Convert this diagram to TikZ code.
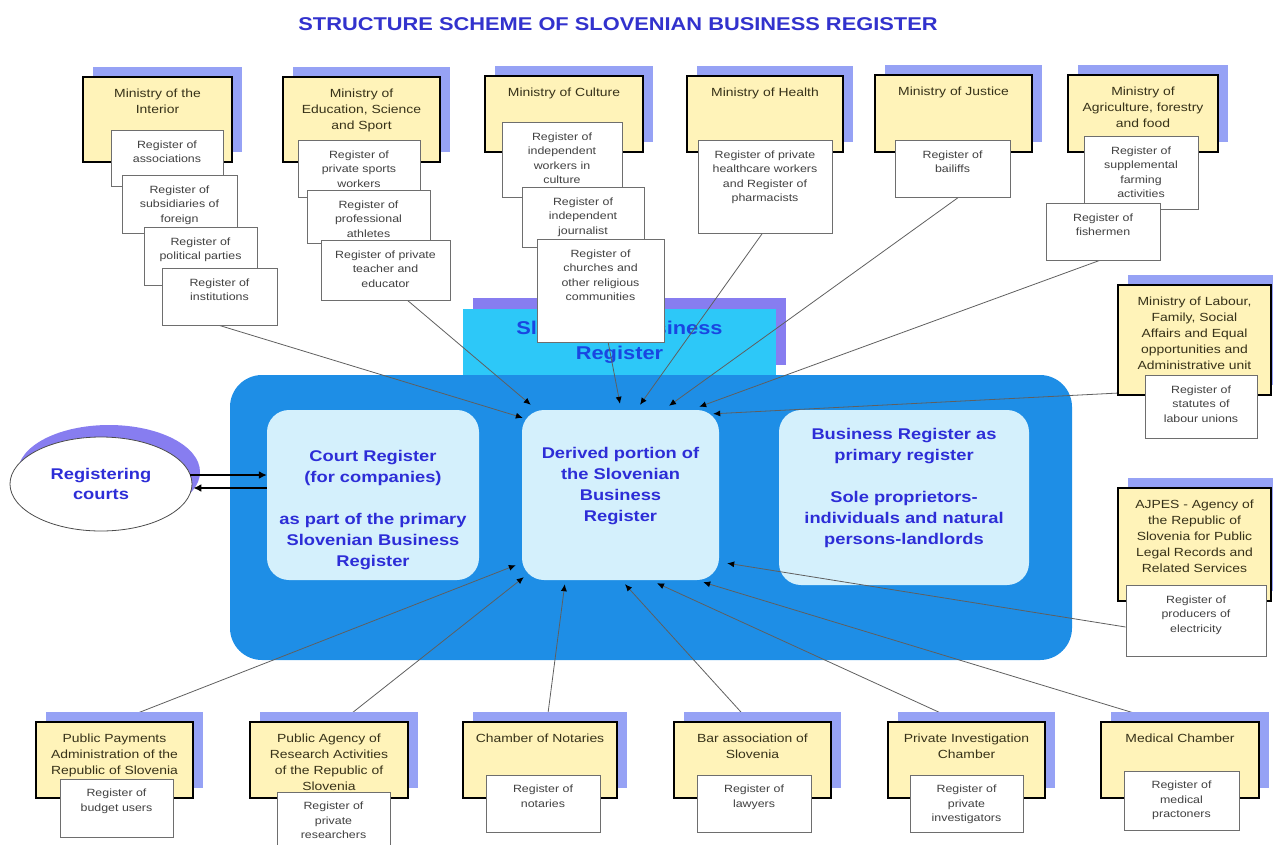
\documentclass[tikz,border=0pt]{standalone}
\usepackage{fontspec}
\setmainfont{Liberation Sans}[FakeStretch=1.18]
\usetikzlibrary{shapes.geometric,shadows,arrows.meta,calc}
\definecolor{minyellow}{RGB}{255,243,185}
\definecolor{shadblue}{RGB}{150,162,245}
\definecolor{violetshad}{RGB}{135,125,240}
\definecolor{regborder}{RGB}{110,110,110}
\definecolor{regtext}{RGB}{65,65,65}
\definecolor{mintext}{RGB}{55,50,25}
\definecolor{bigblue}{RGB}{30,142,230}
\definecolor{lightcyan}{RGB}{212,240,252}
\definecolor{cyanbox}{RGB}{45,200,248}
\definecolor{bluetext}{RGB}{45,45,215}
\definecolor{sbrtext}{RGB}{25,70,225}
\definecolor{titleblue}{RGB}{50,50,205}
\definecolor{linegray}{RGB}{95,95,95}
\newcommand{\boxtext}[4]{\parbox[c][#2pt][t]{#1pt}{\centering\vspace*{#3pt}#4\par}}
\pgfdeclarelayer{bg}
\pgfdeclarelayer{ln}
\pgfsetlayers{bg,ln,main}
\begin{document}
\begin{tikzpicture}[x=1pt,y=-1pt,
  minis/.style={draw=black, line width=2.2pt, fill=minyellow, inner sep=0pt, text=mintext,
    font=\fontsize{11.8}{16}\selectfont,
    general shadow={fill=shadblue, opacity=1, shadow xshift=10pt, shadow yshift=10pt}},
  reg/.style={draw=regborder, line width=0.9pt, fill=white, inner sep=0pt, text=regtext,
    font=\fontsize{10.5}{14.5}\selectfont},
  innerbox/.style={fill=lightcyan, rounded corners=22pt, inner sep=0pt, text=bluetext,
    font=\bfseries\fontsize{15.5}{21}\selectfont},
  conn/.style={draw=linegray, line width=0.8pt, -{Latex[length=7pt,width=6pt,color=black]}},
  courtarrow/.style={draw=black, line width=1.8pt, -{Latex[length=8pt,width=8pt]}}
]
\useasboundingbox (0,0) rectangle (1273,844);
\node[font=\bfseries\fontsize{18.5}{22}\selectfont, text=titleblue] (title) at (618,24)
  {STRUCTURE SCHEME OF SLOVENIAN BUSINESS REGISTER};

\begin{pgfonlayer}{bg}
\node[fill=cyanbox, minimum width=313pt, minimum height=67pt, inner sep=0pt, text=sbrtext,
  font=\bfseries\fontsize{18.5}{25}\selectfont, align=center,
  general shadow={fill=violetshad, opacity=1, shadow xshift=10pt, shadow yshift=11pt}]
  (sbr) at (619.5,342.5) {Slovenian Business\\Register};
\node[fill=bigblue, rounded corners=32pt, minimum width=842pt, minimum height=285pt, inner sep=0pt]
  (big) at (651,517.5) {};
\node[innerbox] (court) at (373,495) {\boxtext{212}{170}{40.5}{Court Register\\(for companies)\\[21pt]as part of the primary\\Slovenian Business\\Register}};
\node[innerbox] (der) at (620.5,495) {\boxtext{197}{170}{37.5}{Derived portion of\\the Slovenian\\Business\\Register}};
\node[innerbox] (bus) at (904,497.5) {\boxtext{250}{175}{18.5}{Business Register as\\primary register\\[21pt]Sole proprietors-\\individuals and natural\\persons-landlords}};
\end{pgfonlayer}

% Ministry of the Interior
\node[minis] (mInt) at (157.5,119.5) {\boxtext{149}{85}{11.5}{Ministry of the\\Interior}};
\node[reg] (rAsso) at (167,158) {\boxtext{112}{56}{10.5}{Register of\\associations}};
\node[reg] (rSubs) at (179.5,204) {\boxtext{115}{58}{10.5}{Register of\\subsidiaries of\\foreign}};
\node[reg] (rPol) at (200.5,256) {\boxtext{113}{58}{10.5}{Register of\\political parties}};
\node[reg] (rInst) at (219.5,296.5) {\boxtext{115}{57}{10.5}{Register of\\institutions}};
% Education
\node[minis] (mEdu) at (361.5,119.5) {\boxtext{157}{85}{11.5}{Ministry of\\Education, Science\\and Sport}};
\node[reg] (rSpo) at (359,168.5) {\boxtext{122}{57}{10.5}{Register of\\private sports\\workers}};
\node[reg] (rAth) at (368.5,216.5) {\boxtext{123}{53}{10.5}{Register of\\professional\\athletes}};
\node[reg] (rTea) at (385.5,270) {\boxtext{129}{60}{10.5}{Register of private\\teacher and\\educator}};
% Culture
\node[minis] (mCul) at (564,114) {\boxtext{158}{76}{11.5}{Ministry of Culture}};
\node[reg] (rWor) at (562,159.5) {\boxtext{120}{75}{10.5}{Register of\\independent\\workers in\\culture}};
\node[reg] (rJou) at (583,217) {\boxtext{122}{60}{10.5}{Register of\\independent\\journalist}};
\node[reg] (rChu) at (600.5,290.5) {\boxtext{127}{103}{10.5}{Register of\\churches and\\other religious\\communities}};
% Health
\node[minis] (mHea) at (765,114) {\boxtext{156}{76}{11.5}{Ministry of Health}};
\node[reg] (rHea) at (765,186.5) {\boxtext{134}{93}{10.5}{Register of private\\healthcare workers\\and Register of\\pharmacists}};
% Justice
\node[minis] (mJus) at (953.5,113.5) {\boxtext{157}{77}{11.5}{Ministry of Justice}};
\node[reg] (rBai) at (952.5,168.5) {\boxtext{115}{57}{10.5}{Register of\\bailiffs}};
% Agriculture
\node[minis] (mAgr) at (1143,113.5) {\boxtext{150}{77}{11.5}{Ministry of\\Agriculture, forestry\\and food}};
\node[reg] (rSup) at (1141,172.5) {\boxtext{114}{73}{10.5}{Register of\\supplemental\\farming\\activities}};
\node[reg] (rFis) at (1103,231.5) {\boxtext{114}{57}{10.5}{Register of\\fishermen}};
% Labour
\node[minis] (mLab) at (1194.5,340) {\boxtext{153}{110}{11.5}{Ministry of Labour,\\Family, Social\\Affairs and Equal\\opportunities and\\Administrative unit}};
\node[reg] (rLab) at (1201,406.5) {\boxtext{112}{63}{10.5}{Register of\\statutes of\\labour unions}};
% AJPES
\node[minis] (mAJP) at (1194.5,544.5) {\boxtext{153}{113}{11.5}{AJPES - Agency of\\the Republic of\\Slovenia for Public\\Legal Records and\\Related Services}};
\node[reg] (rEle) at (1196,620.5) {\boxtext{140}{71}{10.5}{Register of\\producers of\\electricity}};
% Bottom row
\node[minis] (mPP) at (114.5,760) {\boxtext{157}{76}{11.5}{Public Payments\\Administration of the\\Republic of Slovenia}};
\node[reg] (rBud) at (116.5,808) {\boxtext{113}{58}{10}{Register of\\budget users}};
\node[minis] (mPA) at (329,760) {\boxtext{158}{76}{11.5}{Public Agency of\\Research Activities\\of the Republic of\\Slovenia}};
\node[reg] (rRes) at (333.5,821) {\boxtext{113}{58}{10}{Register of\\private\\researchers}};
\node[minis] (mCN) at (540,760) {\boxtext{154}{76}{11.5}{Chamber of Notaries}};
\node[reg] (rNot) at (543,803.5) {\boxtext{114}{57}{10}{Register of\\notaries}};
\node[minis] (mBar) at (752.5,760) {\boxtext{157}{76}{11.5}{Bar association of\\Slovenia}};
\node[reg] (rLaw) at (754,803.5) {\boxtext{114}{57}{10}{Register of\\lawyers}};
\node[minis] (mPI) at (966.5,760) {\boxtext{157}{76}{11.5}{Private Investigation\\Chamber}};
\node[reg] (rInv) at (966.5,803.5) {\boxtext{113}{57}{10}{Register of\\private\\investigators}};
\node[minis] (mMed) at (1180,760) {\boxtext{158}{76}{11.5}{Medical Chamber}};
\node[reg] (rMed) at (1181.5,800.5) {\boxtext{115}{59}{10}{Register of\\medical\\practoners}};

% Registering courts
\node[ellipse, draw=black!70, line width=0.8pt, fill=white, minimum width=182pt, minimum height=94pt,
  inner sep=0pt, text=bluetext, font=\bfseries\fontsize{15.5}{20}\selectfont, align=center,
  general shadow={fill=violetshad, opacity=1, shadow xshift=8pt, shadow yshift=12pt}]
  (ell) at (101,484) {Registering\\courts};
\draw[courtarrow] ($(ell.east)+(-2,-9)$) -- ($(court.west)+(0,-20)$);
\draw[courtarrow] ($(court.west)+(0,-7)$) -- ($(ell.east)+(1,4)$);

\begin{pgfonlayer}{ln}
\draw[conn] (rInst.south) -- ($(der.north west)+(1,8)$);
\draw[conn] ($(rTea.south west)!0.67!(rTea.south east)$) -- ($(der.north west)+(9,-5)$);
\draw[conn] ($(rChu.south west)!0.56!(rChu.south east)$) -- ($(der.north)+(-0.5,-6)$);
\draw[conn] ($(rHea.south west)!0.48!(rHea.south east)$) -- ($(der.north)+(19.5,-5)$);
\draw[conn] ($(rBai.south west)!0.55!(rBai.south east)$) -- ($(der.north)+(48.5,-4)$);
\draw[conn] ($(rFis.south west)!0.47!(rFis.south east)$) -- ($(der.north east)+(-20,-3)$);
\draw[conn] ($(mLab.south west)+(0,-3)$) -- ($(der.north east)+(-6,4)$);
\draw[conn] ($(mPP.north)+(3,0)$) -- ($(der.south west)+(-6,-15)$);
\draw[conn] ($(mPA.north)+(13,0)$) -- ($(der.south west)+(2,-3)$);
\draw[conn] ($(mCN.north)+(7,0)$) -- ($(der.south west)+(43,4)$);
\draw[conn] ($(mBar.north)+(-3.5,0)$) -- ($(der.south)+(4.5,4)$);
\draw[conn] ($(mPI.north)+(-8.5,0)$) -- ($(der.south)+(36.5,3)$);
\draw[conn] ($(mMed.north)+(-20,0)$) -- ($(der.south east)+(-16,2)$);
\draw[conn] ($(rEle.west)+(0,6.5)$) -- ($(der.south east)+(8,-17)$);
\end{pgfonlayer}
\end{tikzpicture}
\end{document}
